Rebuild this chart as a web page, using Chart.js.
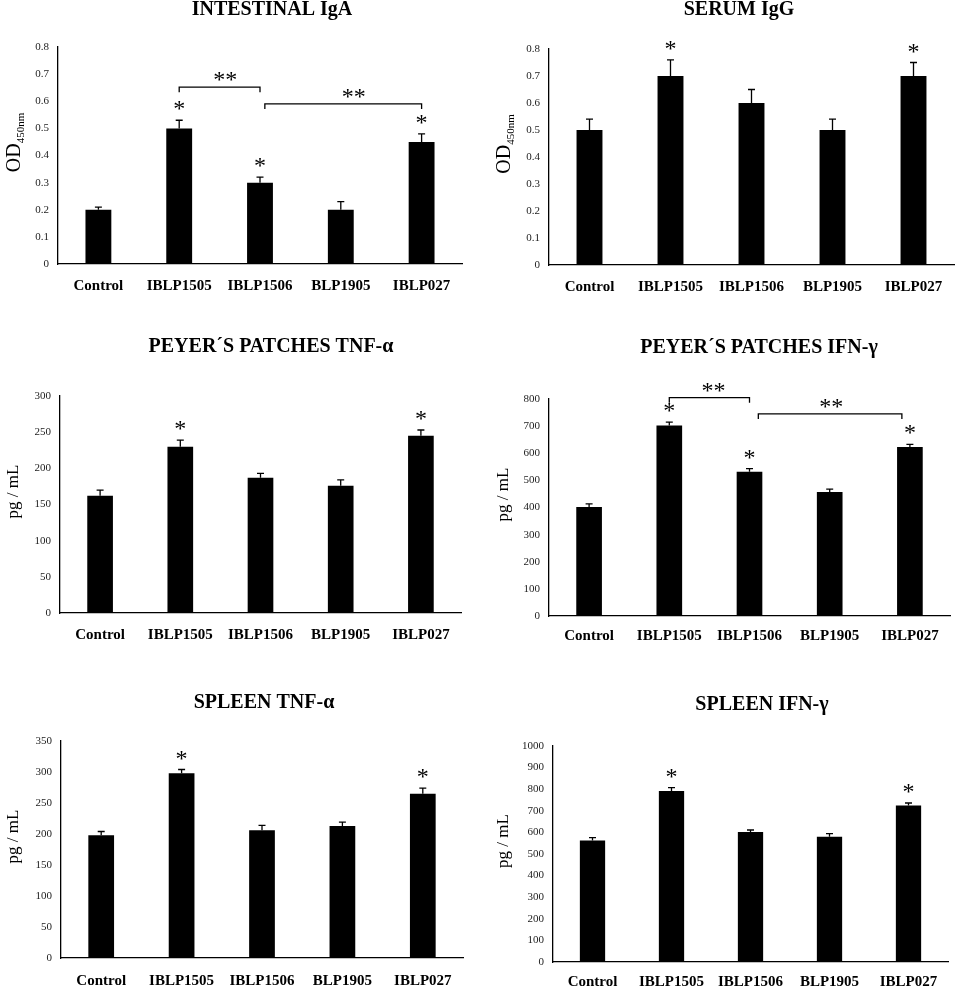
<!DOCTYPE html>
<html>
<head>
<meta charset="utf-8">
<script src="https://cdn.jsdelivr.net/npm/chart.js@4.4.1/dist/chart.umd.min.js"></script>
<style>
    body { margin: 0; background: #fff; }
    #wrap { position: relative; width: 957px; height: 989px; }
    #wrap canvas { position: absolute; }
</style>
</head>
<body>
<div id="wrap">
    <canvas id="iga" width="478" height="300" style="left:0;top:0"></canvas>
    <canvas id="igg" width="467" height="301" style="left:490px;top:0"></canvas>
    <canvas id="ppTnf" width="478" height="329" style="left:0;top:320px"></canvas>
    <canvas id="ppIfn" width="467" height="332" style="left:490px;top:320px"></canvas>
    <canvas id="spTnf" width="478" height="329" style="left:0;top:660px"></canvas>
    <canvas id="spIfn" width="467" height="329" style="left:490px;top:660px"></canvas>
</div>

<script>
    const groups = ['Control', 'IBLP1505', 'IBLP1506', 'BLP1905', 'IBLP027']

    // intestinal IgA (OD 450nm)
    const igaMean = [0.2, 0.5, 0.3, 0.2, 0.45]
    const igaErr = [0.01, 0.03, 0.02, 0.03, 0.03]
    const igaStars = [0, 1, 1, 0, 1]
    // brackets: from / to category, height in data units, where the ** sits
    const igaBrackets = [
        { from: 1, to: 2, y: 0.652, label: 1.57 },
        { from: 2.06, to: 4, y: 0.59, label: 3.16 }
    ]

    // serum IgG (OD 450nm)
    const iggMean = [0.5, 0.7, 0.6, 0.5, 0.7]
    const iggErr = [0.04, 0.06, 0.05, 0.04, 0.05]
    const iggStars = [0, 1, 0, 0, 1]

    // Peyer's patches TNF-a (pg/mL)
    const ppTnfMean = [162, 230, 187, 176, 245]
    const ppTnfErr = [8, 9, 6, 8, 8]
    const ppTnfStars = [0, 1, 0, 0, 1]

    // Peyer's patches IFN-g (pg/mL)
    const ppIfnMean = [402, 702, 532, 457, 623]
    const ppIfnErr = [11, 13, 11, 11, 10]
    const ppIfnStars = [0, 1, 1, 0, 1]
    const ppIfnBrackets = [
        { from: 1, to: 2, y: 805, label: 1.55 },
        { from: 2.11, to: 3.9, y: 745, label: 3.02 }
    ]

    // spleen TNF-a (pg/mL)
    const spTnfMean = [198, 298, 206, 213, 265]
    const spTnfErr = [6, 6, 8, 6, 9]
    const spTnfStars = [0, 1, 0, 0, 1]

    // spleen IFN-g (pg/mL)
    const spIfnMean = [563, 792, 602, 580, 724]
    const spIfnErr = [13, 15, 9, 14, 12]
    const spIfnStars = [0, 1, 0, 0, 1]

    const odTicks = [0, 0.1, 0.2, 0.3, 0.4, 0.5, 0.6, 0.7, 0.8]
    const ppTnfTicks = [0, 50, 100, 150, 200, 250, 300]
    const ppIfnTicks = [0, 100, 200, 300, 400, 500, 600, 700, 800]
    const spTnfTicks = [0, 50, 100, 150, 200, 250, 300, 350]
    const spIfnTicks = [0, 100, 200, 300, 400, 500, 600, 700, 800, 900, 1000]

    const SERIF = '"Liberation Serif", "Times New Roman", serif'
    Chart.defaults.font.family = SERIF

    // error bars, asterisks, brackets, panel title and y label
    const decor = {
        id: 'decor',
        afterDatasetsDraw(chart, args, o) {
            const ctx = chart.ctx
            const xs = chart.scales.x, ys = chart.scales.y, area = chart.chartArea
            const bars = chart.getDatasetMeta(0).data
            const vals = chart.data.datasets[0].data
            ctx.save()
            ctx.strokeStyle = '#000'
            ctx.fillStyle = '#000'
            ctx.lineWidth = 1.3

            o.err.forEach((e, i) => {
                const bx = bars[i].x
                const y0 = ys.getPixelForValue(vals[i])
                const y1 = ys.getPixelForValue(vals[i] + e)
                ctx.beginPath()
                ctx.moveTo(bx, y0); ctx.lineTo(bx, y1)
                ctx.moveTo(bx - 3.5, y1); ctx.lineTo(bx + 3.5, y1)
                ctx.stroke()
            })

            ctx.font = '24px ' + SERIF
            ctx.textAlign = 'center'
            ctx.textBaseline = 'alphabetic'
            o.stars.forEach((s, i) => {
                if (!s) return
                ctx.fillText('*', bars[i].x, ys.getPixelForValue(vals[i] + o.err[i]) - 4)
            })

            ;(o.brackets || []).forEach(b => {
                const x0 = xs.getPixelForValue(b.from)
                const x1 = xs.getPixelForValue(b.to)
                const yy = ys.getPixelForValue(b.y)
                ctx.beginPath()
                ctx.moveTo(x0, yy + 5); ctx.lineTo(x0, yy); ctx.lineTo(x1, yy); ctx.lineTo(x1, yy + 5)
                ctx.stroke()
                ctx.fillText('**', xs.getPixelForValue(b.label), yy)
            })

            ctx.font = 'bold 20px ' + SERIF
            ctx.fillText(o.title, o.titleX, o.titleY)

            // rotated y label, with optional subscript
            ctx.translate(13, (area.top + area.bottom) / 2 - 13)
            ctx.rotate(-Math.PI / 2)
            ctx.textAlign = 'left'
            ctx.font = o.ySize + 'px ' + SERIF
            const wMain = ctx.measureText(o.yLabel).width
            let wSub = 0
            if (o.ySub) {
                ctx.font = '11px ' + SERIF
                wSub = ctx.measureText(o.ySub).width
            }
            const start = -(wMain + wSub) / 2
            ctx.font = o.ySize + 'px ' + SERIF
            ctx.fillText(o.yLabel, start, o.ySub ? 7 : 5)
            if (o.ySub) {
                ctx.font = '11px ' + SERIF
                ctx.fillText(o.ySub, start + wMain, 11)
            }
            ctx.restore()
        }
    }

    function makePanel(id, mean, err, stars, ticks, look, extra) {
        return new Chart(document.getElementById(id), {
            type: 'bar',
            data: {
                labels: groups,
                datasets: [{
                    data: mean,
                    backgroundColor: '#000',
                    borderWidth: 0,
                    barPercentage: 0.32,
                    categoryPercentage: 1
                }]
            },
            options: {
                responsive: false,
                animation: false,
                layout: { padding: { top: look.top, right: look.right, left: 0, bottom: 0 } },
                plugins: {
                    legend: { display: false },
                    tooltip: { enabled: false },
                    decor: Object.assign({ err: err, stars: stars }, extra)
                },
                scales: {
                    x: {
                        grid: { display: false, drawTicks: false },
                        border: { color: '#000', width: 1.3 },
                        ticks: {
                            color: '#000',
                            font: { size: 15, weight: 'bold' },
                            padding: look.xPad,
                            maxRotation: 0,
                            autoSkip: false
                        },
                        afterFit(s) { s.height = look.xh }
                    },
                    y: {
                        min: 0,
                        max: ticks[ticks.length - 1],
                        grid: { display: false, drawTicks: false },
                        border: { color: '#000', width: 1.3 },
                        ticks: {
                            color: '#222',
                            font: { size: 11 },
                            padding: 9,
                            callback: v => String(v)
                        },
                        afterBuildTicks(s) { s.ticks = ticks.map(v => ({ value: v })) },
                        afterFit(s) { s.width = look.yw }
                    }
                }
            },
            plugins: [decor]
        })
    }

    makePanel('iga', igaMean, igaErr, igaStars, odTicks,
        { top: 47, right: 16, xh: 36, yw: 58, xPad: 13 },
        { brackets: igaBrackets, title: 'INTESTINAL IgA', titleX: 272, titleY: 15, yLabel: 'OD', ySub: '450nm', ySize: 20 })

    makePanel('igg', iggMean, iggErr, iggStars, odTicks,
        { top: 49, right: 3, xh: 36, yw: 59, xPad: 13 },
        { title: 'SERUM IgG', titleX: 249, titleY: 15, yLabel: 'OD', ySub: '450nm', ySize: 20 })

    makePanel('ppTnf', ppTnfMean, ppTnfErr, ppTnfStars, ppTnfTicks,
        { top: 76, right: 17, xh: 36, yw: 60, xPad: 13 },
        { title: 'PEYER´S PATCHES TNF-α', titleX: 271, titleY: 32, yLabel: 'pg / mL', ySize: 17 })

    makePanel('ppIfn', ppIfnMean, ppIfnErr, ppIfnStars, ppIfnTicks,
        { top: 79, right: 7, xh: 36, yw: 59, xPad: 11 },
        { brackets: ppIfnBrackets, title: 'PEYER´S PATCHES IFN-γ', titleX: 269, titleY: 33, yLabel: 'pg / mL', ySize: 17 })

    makePanel('spTnf', spTnfMean, spTnfErr, spTnfStars, spTnfTicks,
        { top: 81, right: 15, xh: 31, yw: 61, xPad: 14 },
        { title: 'SPLEEN TNF-α', titleX: 264, titleY: 48, yLabel: 'pg / mL', ySize: 17 })

    makePanel('spIfn', spIfnMean, spIfnErr, spIfnStars, spIfnTicks,
        { top: 86, right: 9, xh: 27, yw: 63, xPad: 11 },
        { title: 'SPLEEN IFN-γ', titleX: 272, titleY: 50, yLabel: 'pg / mL', ySize: 17 })
</script>
</body>
</html>
